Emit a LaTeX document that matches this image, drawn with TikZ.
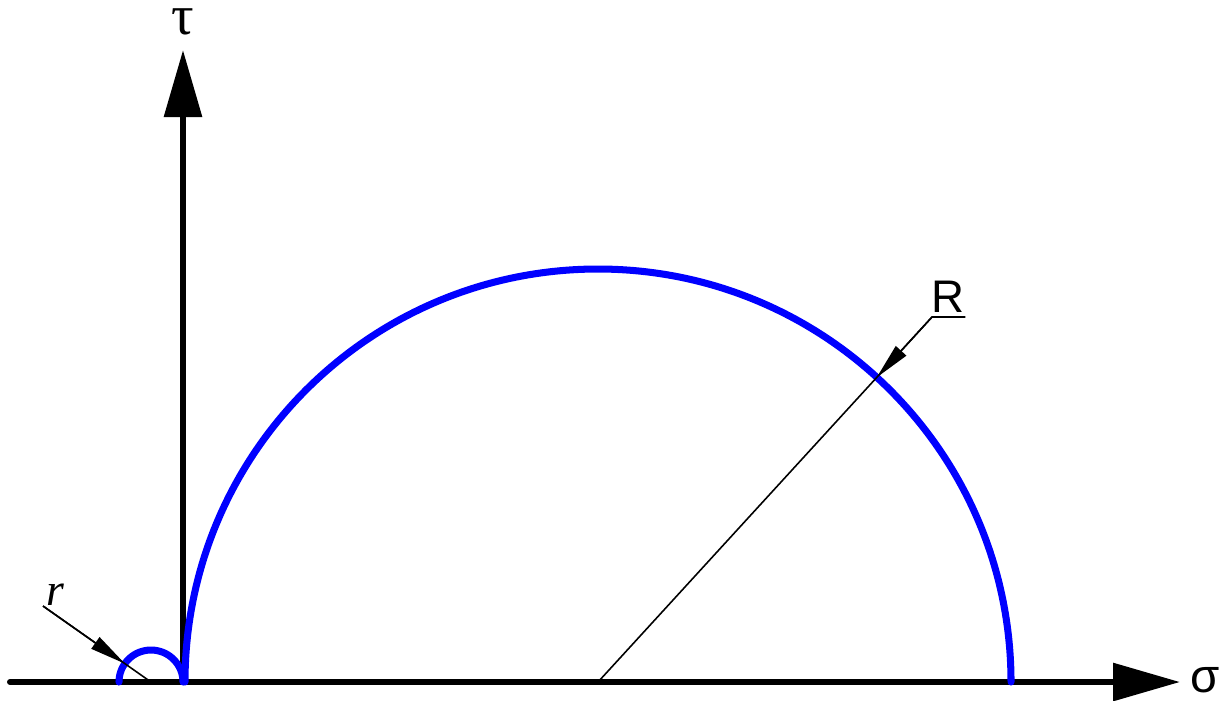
\documentclass[tikz,border=0pt]{standalone}
\usepackage{fontspec}
\setmainfont{Liberation Serif}
\setsansfont{Liberation Sans}
\usetikzlibrary{arrows.meta,calc}
\definecolor{mohrblue}{RGB}{0,0,255}
\begin{document}
\begin{tikzpicture}[
  axis/.style={line width=1.7pt,line cap=round,-{Triangle[length=0.67cm,width=0.37cm]}},
  mohr/.style={draw=mohrblue,line width=2pt,line cap=round},
  leader/.style={line width=0.45pt},
  tip/.style={-{Triangle[length=0.36cm,width=0.14cm]}},
  lbl/.style={font=\fontsize{13}{15}\selectfont,inner sep=0pt}]
\useasboundingbox (-1.83,-0.18) rectangle (10.45,6.82);
\coordinate (O) at (0,0);
\coordinate (C) at (4.15,0);
\coordinate (c) at (-0.32,0);
\coordinate (xs) at (-1.73,0);
\coordinate (xe) at (9.97,0);
\coordinate (ye) at (0,6.32);
\coordinate (Rs) at (7.49,3.65);
\coordinate (rs) at (-1.40,0.76);
\node[lbl,font=\fontsize{16}{18}\selectfont] (tau) at (0,6.60) {τ};
\node[lbl,font=\fontsize{13.5}{15}\selectfont\sffamily] (sigma) at (10.22,0.02) {σ};
\node[lbl,font=\fontsize{13}{15}\selectfont\sffamily,anchor=south west] (Rlab) at (7.48,3.69) {R};
\node[lbl,font=\fontsize{13}{15}\selectfont\itshape,anchor=south west] (rlab) at ([xshift=0.03cm]rs) {r};
\coordinate (Rp) at ($(C)!4.13cm!(Rs)$);
\coordinate (rp) at ($(c)!0.32cm!(rs)$);
\draw[axis] (xs) -- (xe);
\draw[axis] (O) -- (ye);
\draw[mohr] (C) ++(4.13,0) arc[start angle=0,end angle=180,radius=4.13];
\draw[mohr] (c) ++(0.32,0) arc[start angle=0,end angle=180,radius=0.32];
\draw[leader] (C) -- (Rs) -- (Rs -| Rlab.east);
\draw[leader,tip] (Rs) -- (Rp);
\draw[leader] (rs) -- (c);
\draw[leader,tip] (rs) -- (rp);
\end{tikzpicture}
\end{document}
